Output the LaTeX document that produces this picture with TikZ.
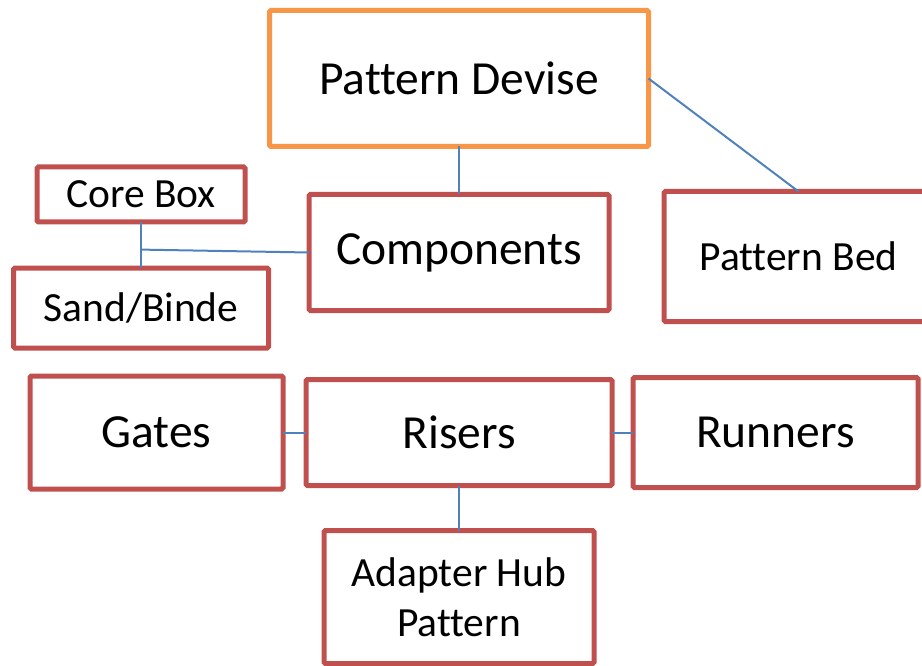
\documentclass[tikz,border=0pt]{standalone}
\usepackage{fontspec}
\setmainfont{Carlito}[Ligatures=CommonOff]
\usepackage{xcolor}
\usetikzlibrary{positioning,calc}
\newcommand{\bigtxt}{\fontsize{47.5}{57}\selectfont}
\newcommand{\smalltxt}{\fontsize{41.5}{50}\selectfont}
\definecolor{boxred}{RGB}{192,80,77}
\definecolor{boxorange}{RGB}{247,150,70}
\definecolor{linkblue}{RGB}{79,129,189}

\begin{document}
\begin{tikzpicture}[x=1pt,y=1pt,%
  box/.style={draw=boxred,line width=5pt,rounded corners=1.5pt,outer sep=0pt,inner sep=0pt,align=center,font=\bigtxt},%
  sbox/.style={box,font=\smalltxt},%
  link/.style={draw=linkblue,line width=2pt}%
  ]
  \useasboundingbox (0,0) rectangle (922,-666);
  \clip (0,0) rectangle (922,-666);
%
  \node (dev) [box,draw=boxorange,minimum width=379pt,minimum height=136pt] at (459,-78.5) {Pattern Devise};
%
  \node (comp) [box,minimum width=300pt,minimum height=116pt,below=48pt of dev] {Components};
  \node (bed)  [sbox,minimum width=269pt,minimum height=130pt,right=55pt of comp,yshift=-4pt] {Pattern Bed};
  \node (core) [sbox,minimum width=208pt,minimum height=55pt,left=64pt of comp.north west] {Core Box};
  \node (sand) [sbox,minimum width=255pt,minimum height=80pt,below=46pt of core] {Sand/Binde};
%
  \node (ris)  [box,minimum width=306pt,minimum height=106pt,below=69pt of comp] {Risers};
  \node (gate) [box,minimum width=253pt,minimum height=113pt,left=23pt of ris] {Gates};
  \node (run)  [box,minimum width=285pt,minimum height=110pt,right=21pt of ris] {Runners};
  \node (hub)  [sbox,minimum width=270pt,minimum height=133pt,below=45pt of ris] {Adapter Hub\\Pattern};
%
  \coordinate (join) at ($(core.south)!0.6!(sand.north)$);
%
  \draw[link] (dev.south) -- (comp.north);
  \draw[link] (dev.east) -- (bed.north);
  \draw[link] (core.south) -- (sand.north);
  \draw[link] (comp.west) -- (join);
%
  \draw[link] (gate.east) -- (ris.west);
  \draw[link] (ris.east) -- (run.west);
  \draw[link] (ris.south) -- (hub.north);
%
\end{tikzpicture}
\end{document}
